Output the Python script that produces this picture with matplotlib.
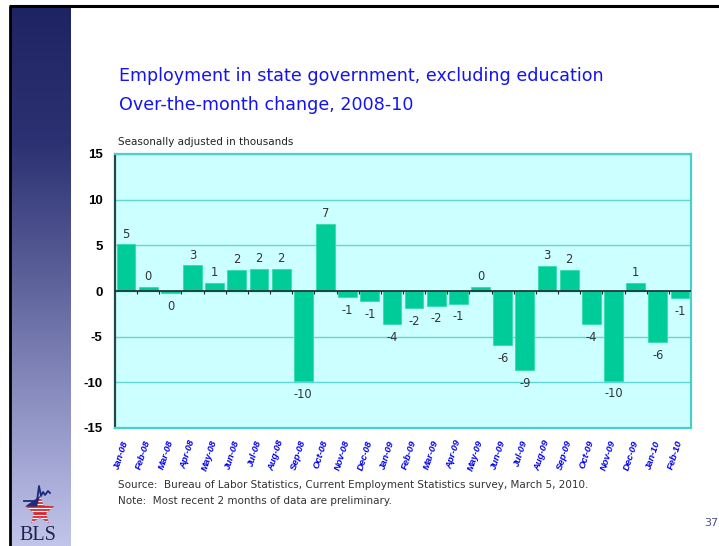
import numpy as np
import matplotlib
matplotlib.use("Agg")
import matplotlib.pyplot as plt
from matplotlib.patches import Polygon
from matplotlib.colors import LinearSegmentedColormap

months = ["Jan-08", "Feb-08", "Mar-08", "Apr-08", "May-08", "Jun-08", "Jul-08",
          "Aug-08", "Sep-08", "Oct-08", "Nov-08", "Dec-08", "Jan-09", "Feb-09",
          "Mar-09", "Apr-09", "May-09", "Jun-09", "Jul-09", "Aug-09", "Sep-09",
          "Oct-09", "Nov-09", "Dec-09", "Jan-10", "Feb-10"]
changes = [5.1, 0.4, -0.2, 2.8, 0.9, 2.3, 2.4, 2.4, -9.9, 7.3, -0.7, -1.1, -3.6,
           -1.9, -1.6, -1.4, 0.4, -5.9, -8.7, 2.7, 2.3, -3.6, -9.8, 0.9, -5.6, -0.8]
yticks = [-15, -10, -5, 0, 5, 10, 15]

W, H = 719, 546
fig = plt.figure(figsize=(W / 100, H / 100), dpi=100)
fig.patch.set_facecolor("white")

def fx(px):
    return px / W

def fy(py):
    return 1 - py / H

# ---- background decoration: sidebar gradient, borders ----
bg = fig.add_axes([0, 0, 1, 1], zorder=0)
bg.set_xlim(0, W)
bg.set_ylim(H, 0)
bg.axis("off")
cmap = LinearSegmentedColormap.from_list(
    "side", ["#1e2463", "#2b3172", "#5b6099", "#8f93c4", "#c2c5ea"])
grad = np.linspace(0, 1, 256).reshape(-1, 1)
bg.imshow(grad, cmap=cmap, extent=[11, 71, H, 7], aspect="auto", zorder=1)
bg.plot([9, W], [6, 6], color="black", lw=2.2, zorder=2, solid_capstyle="butt")
bg.plot([10, 10], [6, H], color="black", lw=2.0, zorder=2, solid_capstyle="butt")

# ---- BLS logo ----
cx, cy, R, r = 40, 511, 15, 6.5
ang = np.deg2rad(90 + np.arange(10) * 36)
rad = np.where(np.arange(10) % 2 == 0, R, r)
star = Polygon(np.column_stack([cx + rad * np.cos(ang), cy - rad * np.sin(ang)]),
               closed=True, facecolor="#d8202a", edgecolor="none", zorder=3)
bg.add_patch(star)
for yy in np.arange(cy - R, cy + R, 3.4):
    ln, = bg.plot([cx - R, cx + R], [yy + 1.7, yy + 1.7], color="white", lw=0.9, zorder=4)
    ln.set_clip_path(star)
bg.add_patch(Polygon([[cx - R, cy - 4.5], [cx - 3, cy - 4.5], [cx, cy - R]], closed=True,
                     facecolor="#1c2a7a", edgecolor="none", zorder=5))
bg.plot([cx - 16, cx - 3, cx - 1, cx + 1, cx + 3, cx + 5, cx + 8, cx + 10],
        [cy - 10, cy - 10, cy - 25, cy - 15, cy - 19, cy - 16, cy - 20, cy - 18],
        color="#1c2a7a", lw=1.3, zorder=5)
bg.text(cx - 2, 545, "BLS", fontsize=14.5, family="Liberation Serif", color="#1c2350",
        ha="center", va="bottom", zorder=5)

# ---- titles and notes ----
title_col = "#1414f0"
fig.text(fx(119), fy(81), "Employment in state government, excluding education",
         fontsize=12.6, family="DejaVu Sans", color=title_col, va="baseline")
fig.text(fx(119), fy(110), "Over-the-month change, 2008-10",
         fontsize=12.6, family="DejaVu Sans", color=title_col, va="baseline")
fig.text(fx(118), fy(145), "Seasonally adjusted in thousands",
         fontsize=7.5, family="DejaVu Sans", color="#222222", va="baseline")
fig.text(fx(118), fy(488),
         "Source:  Bureau of Labor Statistics, Current Employment Statistics survey, March 5, 2010.",
         fontsize=7.5, family="DejaVu Sans", color="#333333", va="baseline")
fig.text(fx(118), fy(504), "Note:  Most recent 2 months of data are preliminary.",
         fontsize=7.5, family="DejaVu Sans", color="#333333", va="baseline")
fig.text(fx(704), fy(526), "37", fontsize=8, family="DejaVu Sans",
         color="#4b4b8f", va="baseline")

# ---- main chart ----
L, R_, T, B = 115, 691, 154, 428
ax = fig.add_axes([fx(L), fy(B), fx(R_ - L), (B - T) / H], zorder=2)
ax.set_facecolor("#ccffff")
x = np.arange(len(months))
ax.bar(x, changes, width=0.85, color="#00cc99", edgecolor="#33dda8", linewidth=0.6, zorder=2)
ax.set_xlim(-0.5, len(months) - 0.5)
ax.set_ylim(min(yticks), max(yticks))
ax.set_yticks(yticks)
ax.set_yticklabels([str(t) for t in yticks], fontsize=9.5, fontweight="bold",
                   family="Liberation Sans", color="black")
ax.tick_params(axis="y", length=0, pad=9)
ax.yaxis.grid(True, color="#5fd8d4", lw=1.0, zorder=1)
ax.set_axisbelow(True)
ax.axhline(0, color="#1a2a2a", lw=1.2, zorder=3)
ax.vlines(x[:-1] + 0.5, -0.35, 0, color="#1a2a2a", lw=0.8, zorder=3)

ax.set_xticks(x)
ax.set_xticklabels(months, rotation=72, ha="right", va="center", rotation_mode="anchor",
                   fontsize=6.8, fontweight="bold", fontstyle="italic",
                   family="Liberation Sans", color="#0000ee")
ax.tick_params(axis="x", length=0, pad=9)

for s in ["top", "right", "bottom"]:
    ax.spines[s].set_color("#4ccfcc")
    ax.spines[s].set_linewidth(1.6)
ax.spines["left"].set_color("#1f4a48")
ax.spines["left"].set_linewidth(1.6)

for xi, v in zip(x, changes):
    lab = str(int(round(v))) if round(v) != 0 else "0"
    off = 7.5 if v > 0 else -9.5
    ax.annotate(lab, (xi, v), xytext=(0, off), textcoords="offset points",
                ha="center", va="center", fontsize=8.3, family="DejaVu Sans",
                color="#333333", zorder=4)

fig.savefig("out.png", dpi=100)
